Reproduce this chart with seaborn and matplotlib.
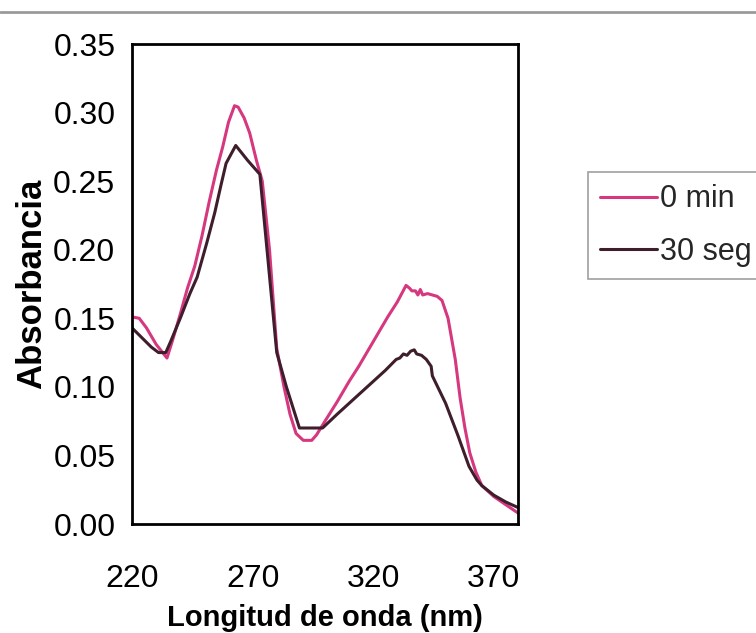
import pandas as pd
import matplotlib
matplotlib.use("Agg")
import matplotlib.pyplot as plt
import seaborn as sns
from matplotlib.lines import Line2D

# espectro a 0 min
wl_0min = [220, 223, 226, 230, 234.5, 237, 240, 243, 246, 249, 252, 255, 257.6, 260,
           262.5, 264, 266.5, 268.8, 271.6, 274, 277, 280, 283, 285.5, 288, 291,
           294.5, 296.5, 300, 305, 310, 314, 318, 322, 326, 330, 333.6, 335, 336,
           337.5, 338.5, 339.5, 340.5, 342.5, 344.5, 346.5, 348.5, 351, 354, 356,
           358, 360, 362.5, 365, 370, 375, 380]
abs_0min = [0.151, 0.150, 0.143, 0.131, 0.121, 0.135, 0.153, 0.172, 0.188, 0.210,
            0.235, 0.258, 0.275, 0.293, 0.305, 0.304, 0.296, 0.285, 0.265, 0.250,
            0.200, 0.128, 0.100, 0.080, 0.066, 0.061, 0.061, 0.065, 0.075, 0.089,
            0.104, 0.115, 0.127, 0.139, 0.151, 0.162, 0.174, 0.172, 0.170, 0.170,
            0.167, 0.171, 0.167, 0.168, 0.167, 0.166, 0.163, 0.150, 0.120, 0.092,
            0.070, 0.052, 0.038, 0.028, 0.020, 0.014, 0.008]

# espectro a 30 seg
wl_30seg = [220, 224, 228, 231, 234, 236, 240, 244, 247, 251, 254.3, 257, 259, 263,
            268, 273, 280, 284, 289.4, 299, 305, 310, 315, 320, 325, 329.5, 331,
            332.5, 334, 335.5, 337, 338, 340, 342, 344, 344.5, 350, 355, 359.7,
            363, 365, 370, 375, 380]
abs_30seg = [0.143, 0.136, 0.129, 0.125, 0.125, 0.133, 0.150, 0.168, 0.180, 0.205,
             0.227, 0.248, 0.263, 0.276, 0.265, 0.255, 0.125, 0.100, 0.070, 0.070,
             0.080, 0.088, 0.096, 0.104, 0.112, 0.120, 0.121, 0.124, 0.123, 0.126,
             0.127, 0.124, 0.123, 0.120, 0.115, 0.108, 0.088, 0.065, 0.042, 0.032,
             0.028, 0.021, 0.016, 0.012]

series = ["0 min", "30 seg"]
colores = ["#d6387f", "#3e1e2c"]
y_ticks = [0.00, 0.05, 0.10, 0.15, 0.20, 0.25, 0.30, 0.35]
x_ticks = [220, 270, 320, 370]

df = pd.concat([
    pd.DataFrame({"wl": wl_0min, "abs": abs_0min, "serie": series[0]}),
    pd.DataFrame({"wl": wl_30seg, "abs": abs_30seg, "serie": series[1]}),
])

sns.set_style("white")
plt.rcParams["font.family"] = ["Liberation Sans", "DejaVu Sans"]

fig = plt.figure(figsize=(7.56, 6.33), dpi=100)
ax = fig.add_axes([132 / 756, 109 / 633, 386 / 756, 480 / 633])

sns.lineplot(data=df, x="wl", y="abs", hue="serie", palette=colores,
             estimator=None, sort=False, linewidth=2.2, ax=ax, legend=False)

ax.set_xlim(220, 380)
ax.set_ylim(0, 0.35)
ax.set_xticks(x_ticks)
ax.set_yticks(y_ticks)
ax.set_yticklabels([f"{v:.2f}" for v in y_ticks])
ax.tick_params(axis="both", direction="out", length=7, width=1.2, color="#555555",
               labelsize=23, labelcolor="black")
ax.tick_params(axis="x", pad=22)
ax.tick_params(axis="y", pad=5)
for s in ax.spines.values():
    s.set_color("black")
    s.set_linewidth(2)

ax.set_xlabel("Longitud de onda (nm)", fontsize=21, fontweight="bold", labelpad=7,
              color="black")
ax.set_ylabel("Absorbancia", fontsize=25, fontweight="bold", labelpad=4, color="black")

handles = [Line2D([0], [0], color=c, lw=2.2) for c in colores]
leg = ax.legend(handles, series, loc="upper left",
                bbox_to_anchor=(588 / 756, 1 - 172 / 633), bbox_transform=fig.transFigure,
                borderaxespad=0, fontsize=22, frameon=True, fancybox=False,
                handlelength=1.85, handletextpad=0.1, borderpad=0.4, labelspacing=0.75)
leg.get_frame().set_edgecolor("#888888")
leg.get_frame().set_linewidth(1.2)

# linea gris superior
fig.add_artist(Line2D([0, 1], [1 - 12 / 633, 1 - 12 / 633], transform=fig.transFigure,
                      color="#9a9a9a", lw=2))

fig.savefig("out.png", dpi=100)
